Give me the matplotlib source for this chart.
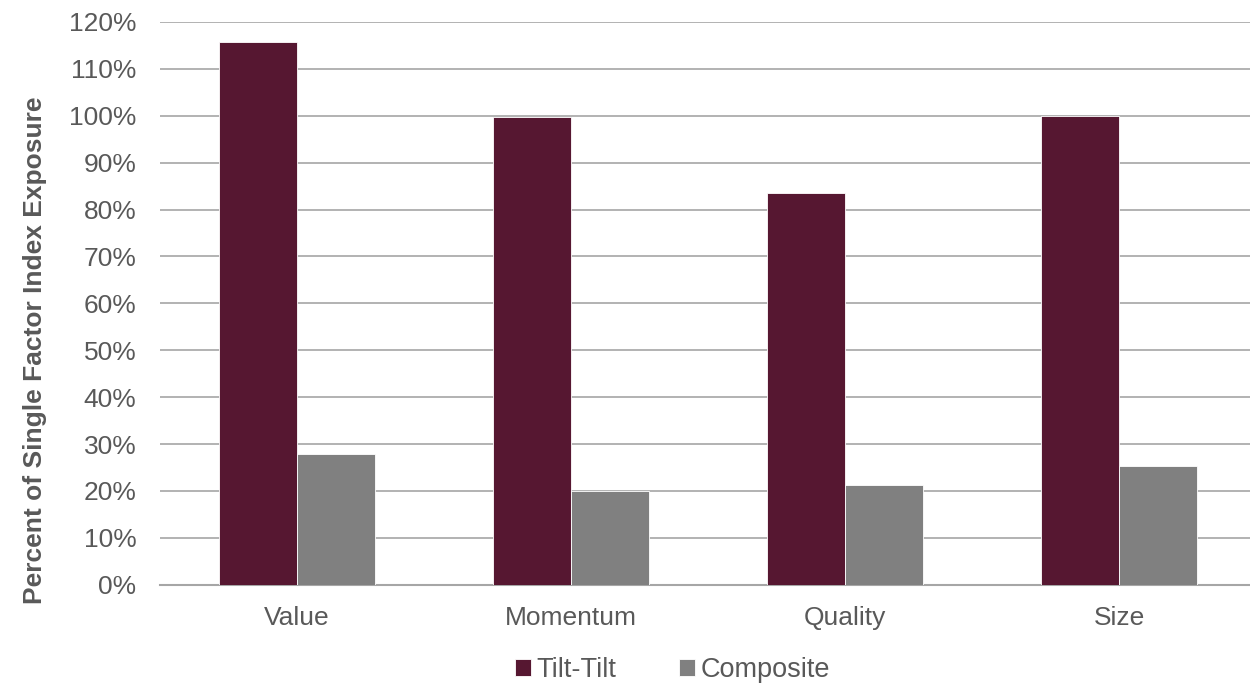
import numpy as np
import matplotlib
matplotlib.use("Agg")
import matplotlib.pyplot as plt
from matplotlib.ticker import PercentFormatter

plt.rcParams["font.family"] = ["Liberation Sans", "DejaVu Sans"]

categories = ["Value", "Momentum", "Quality", "Size"]
tilt_tilt = [115.7, 99.8, 83.6, 100.0]
composite = [27.9, 19.9, 21.3, 25.4]
series_names = ["Tilt-Tilt", "Composite"]
colors = ["#561731", "#808080"]
text_color = "#595959"

fig = plt.figure(figsize=(12.5, 6.84), dpi=100)
ax = fig.add_axes([0.128, 0.145, 0.877, 0.823])

x = np.arange(len(categories))
w = 0.285
ax.bar(x - w / 2, tilt_tilt, w, color=colors[0], edgecolor="white", linewidth=0.6,
       label=series_names[0], zorder=3)
ax.bar(x + w / 2, composite, w, color=colors[1], edgecolor="white", linewidth=0.6,
       label=series_names[1], zorder=3)

ax.set_xlim(-0.5, len(categories) - 0.5)
ax.set_ylim(0, 120)
ax.set_yticks(np.arange(0, 121, 10))
ax.yaxis.set_major_formatter(PercentFormatter(decimals=0))
ax.set_xticks(x)
ax.set_xticklabels(categories)

ax.grid(axis="y", color="#a6a6a6", linewidth=1.2, zorder=0)
for s in ["top", "right", "left"]:
    ax.spines[s].set_visible(False)
ax.spines["bottom"].set_color("#a6a6a6")
ax.spines["bottom"].set_linewidth(1.5)
ax.tick_params(axis="both", length=0, labelsize=19, colors=text_color)
ax.tick_params(axis="x", pad=15)
ax.tick_params(axis="y", pad=17)

ax.set_ylabel("Percent of Single Factor Index Exposure", fontsize=19,
              fontweight="bold", color=text_color)
ax.yaxis.set_label_coords(-0.1035, 0.417)

fig.legend(loc="center", bbox_to_anchor=(0.538, 0.02), ncol=2,
           frameon=False, fontsize=19.5, labelcolor=text_color,
           handlelength=0.6, handleheight=0.6, handletextpad=0.2,
           columnspacing=2.3)

fig.savefig("out.png", dpi=100)
